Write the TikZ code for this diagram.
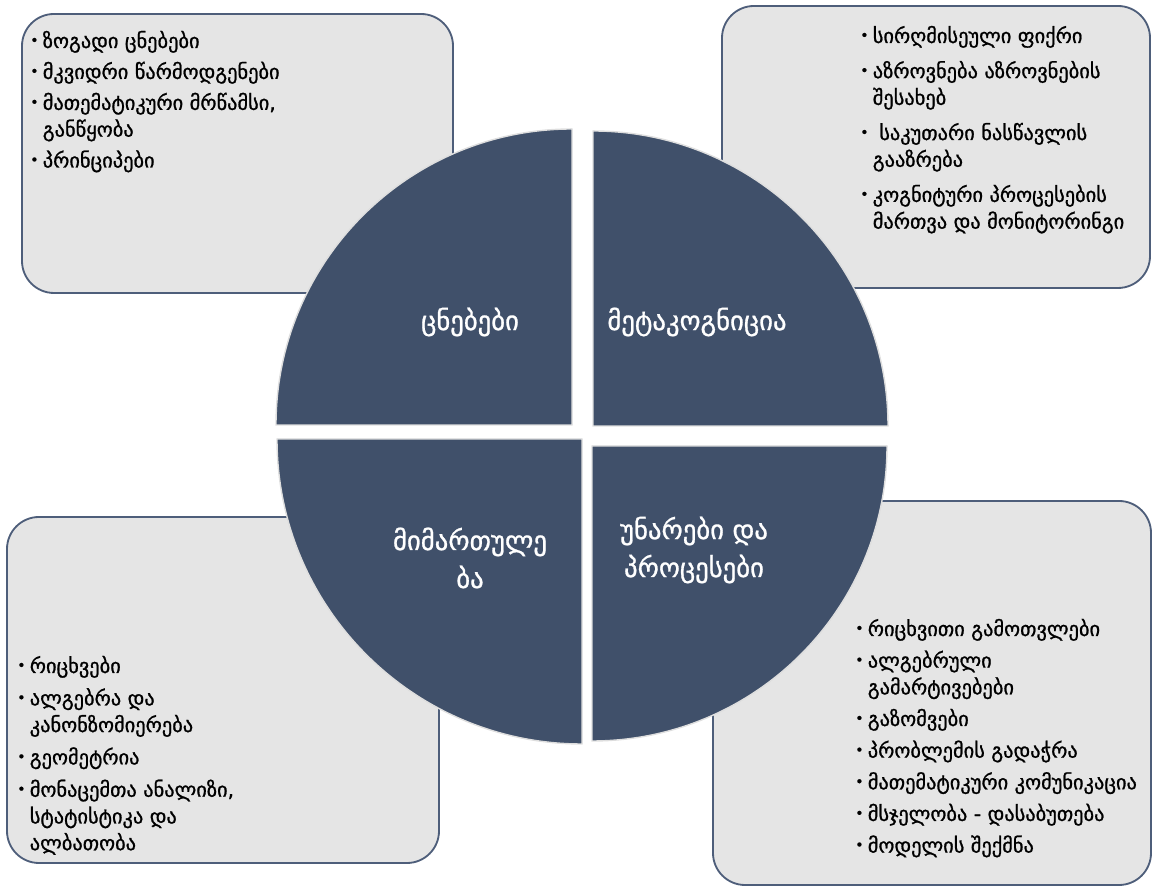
\documentclass[tikz,border=0pt]{standalone}
\usepackage{fontspec}
\setmainfont{DejaVu Sans}[FakeBold=1]
\definecolor{slate}{RGB}{64,80,106}
\definecolor{panelline}{RGB}{78,94,122}
\definecolor{panelfill}{RGB}{229,229,229}
\newcommand\dotmark{\raisebox{0.25ex}{\fontsize{10}{10}\selectfont •}}

\begin{document}
\begin{tikzpicture}[x=0.025cm,y=0.025cm,
    panel/.style={line width=1.3,draw=panelline,fill=panelfill,rounded corners=0.8cm},
    quarter/.style={line width=1,draw=black!13,fill=slate},
    headtext/.style={white,font=\fontsize{19}{27}\selectfont,align=center,inner sep=0},
    bullets/.style={anchor=north west,inner sep=0,font=\fontsize{14.5}{19}\selectfont}
    ]
    \useasboundingbox (0,0) rectangle (1152,886);

    % corner panels
    \draw[panel] (22,593) rectangle (453,872);
    \draw[panel] (722,598) rectangle (1150,880);
    \draw[panel] (7,23) rectangle (439,369);
    \draw[panel] (713,1) rectangle (1151,385);

    % four quarters, each with its own corner
    \foreach \cx/\cy/\rad/\a in {572/461/296/90,593/460/295/0,582/447/305/180,592/440/295/270} {
        \draw[quarter] (\cx,\cy) -- ++(\a:\rad) arc[start angle=\a,end angle=\a+90,radius=\rad] -- cycle;
    }

    \node[headtext] (concepts) at (470,564) {ცნებები};
    \node[headtext] (metacog) at (697,564) {მეტაკოგნიცია};
    \node[headtext] (direction) at (470,328) {მიმართულე\\ბა};
    \node[headtext] (skills) at (694,336) {უნარები და\\პროცესები};

    \node[bullets] (conceptlist) at (30,857) {%
        \begin{tabular}{@{}l@{\hspace{3pt}}l@{}}
        \dotmark & ზოგადი ცნებები\\[3pt]
        \dotmark & მკვიდრი წარმოდგენები\\[3pt]
        \dotmark & მათემატიკური მრწამსი,\\
                 & განწყობა\\[3pt]
        \dotmark & პრინციპები
        \end{tabular}};
    \node[bullets] (metalist) at (860,862) {%
        \begin{tabular}{@{}l@{\hspace{3pt}}l@{}}
        \dotmark & სირღმისეული ფიქრი\\[6pt]
        \dotmark & აზროვნება აზროვნების\\
                 & შესახებ\\[6pt]
        \dotmark & \ საკუთარი ნასწავლის\\
                 & გააზრება\\[6pt]
        \dotmark & კოგნიტური პროცესების\\
                 & მართვა და მონიტორინგი
        \end{tabular}};
    \node[bullets] (directlist) at (17,232) {%
        \begin{tabular}{@{}l@{\hspace{3pt}}l@{}}
        \dotmark & რიცხვები\\[4pt]
        \dotmark & ალგებრა და\\
                 & კანონზომიერება\\[4pt]
        \dotmark & გეომეტრია\\[4pt]
        \dotmark & მონაცემთა ანალიზი,\\
                 & სტატისტიკა და\\
                 & ალბათობა
        \end{tabular}};
    \node[bullets] (skilllist) at (855,269) {%
        \begin{tabular}{@{}l@{\hspace{3pt}}l@{}}
        \dotmark & რიცხვითი გამოთვლები\\[3.5pt]
        \dotmark & ალგებრული\\
                 & გამარტივებები\\[3.5pt]
        \dotmark & გაზომვები\\[3.5pt]
        \dotmark & პრობლემის გადაჭრა\\[3.5pt]
        \dotmark & მათემატიკური კომუნიკაცია\\[3.5pt]
        \dotmark & მსჯელობა - დასაბუთება\\[3.5pt]
        \dotmark & მოდელის შექმნა
        \end{tabular}};
\end{tikzpicture}
\end{document}
